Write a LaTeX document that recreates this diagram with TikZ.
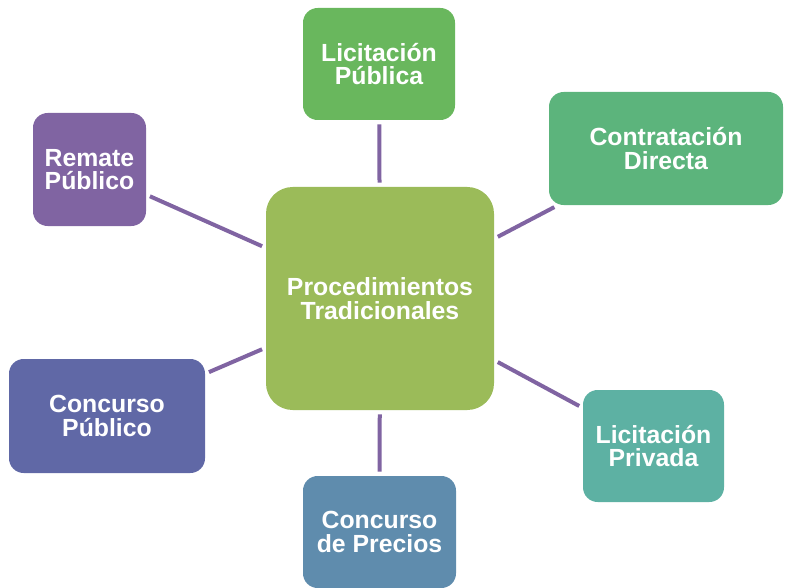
\documentclass[tikz,border=0pt]{standalone}
\usepackage{fontspec}
\setmainfont{Liberation Sans}
\definecolor{cCenter}{HTML}{9BBB59}
\definecolor{cLicPub}{HTML}{69B75D}
\definecolor{cContr}{HTML}{5CB47C}
\definecolor{cLicPriv}{HTML}{5DB1A3}
\definecolor{cPrecios}{HTML}{5F8CAD}
\definecolor{cConcPub}{HTML}{6068A6}
\definecolor{cRemate}{HTML}{8064A2}
\definecolor{cLine}{HTML}{8064A2}
\begin{document}
\begin{tikzpicture}[x=0.75pt,y=-0.75pt,
  box/.style={rounded corners=11pt, inner sep=0pt, align=center, text=white,
    font=\bfseries\fontsize{18.6}{17.8}\selectfont},
  link/.style={draw=cLine, line width=3pt, shorten <=3pt, shorten >=3pt}]
\useasboundingbox (0,0) rectangle (785,588);
\node[box, fill=cCenter, rounded corners=20pt, minimum width=171pt, minimum height=167.25pt] (c) at (380,298.5) {Procedimientos\\Tradicionales};
\node[box, fill=cLicPub, minimum width=114pt, minimum height=84pt] (lp) at (379,64) {Licitación\\Pública};
\node[box, fill=cContr, minimum width=175.5pt, minimum height=84.75pt] (cd) at (666,148.5) {Contratación\\Directa};
\node[box, fill=cLicPriv, minimum width=105.75pt, minimum height=84pt] (lv) at (653.5,446) {Licitación\\Privada};
\node[box, fill=cPrecios, minimum width=114.75pt, minimum height=84pt] (cp) at (379.5,532) {Concurso\\de Precios};
\node[box, fill=cConcPub, minimum width=147pt, minimum height=85.5pt] (cu) at (107,416) {Concurso\\Público};
\node[box, fill=cRemate, minimum width=84.75pt, minimum height=84.75pt] (rp) at (89.5,169.5) {Remate\\Público};
\draw[link] (c) -- (lp);
\draw[link] (c) -- (cd);
\draw[link] (c) -- (lv);
\draw[link] (c) -- (cp);
\draw[link] (c) -- (cu);
\draw[link] (c) -- (rp);
\end{tikzpicture}
\end{document}
